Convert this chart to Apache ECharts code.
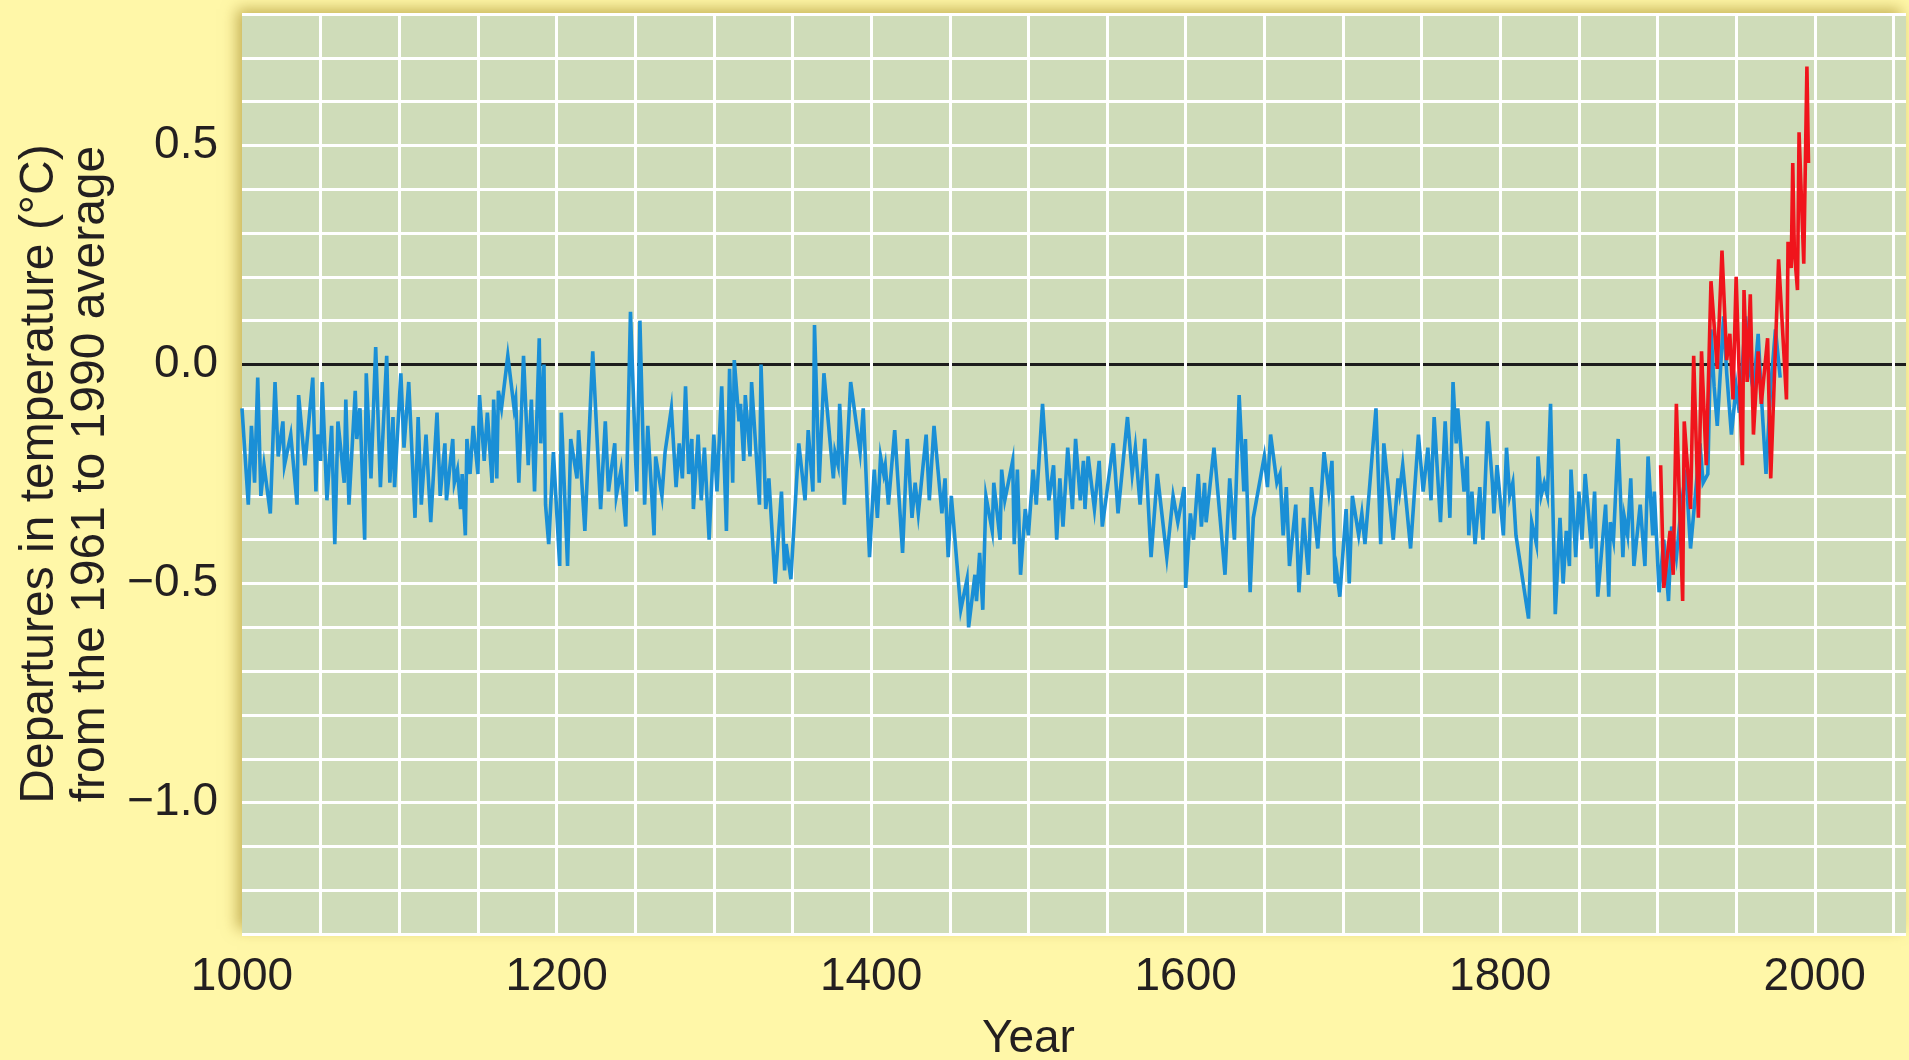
<!DOCTYPE html>
<html>
<head>
<meta charset="utf-8">
<script src="https://cdn.jsdelivr.net/npm/echarts@6/dist/echarts.min.js"></script>
<style>
  html, body { margin: 0; padding: 0; background: #fff7a8; }
  #chart { width: 1909px; height: 1060px; }
</style>
</head>
<body>
<div id="chart"></div>
<script>
// Proxy-based reconstruction of northern-hemisphere temperature, [year, departure in °C]
const reconstructed = [
  [1000,-0.10],[1004,-0.32],[1006,-0.14],[1008,-0.27],[1010,-0.03],[1012,-0.30],[1014,-0.23],[1018,-0.34],
  [1021,-0.04],[1023,-0.21],[1026,-0.13],[1027,-0.23],[1031,-0.16],[1035,-0.32],[1036,-0.07],[1040,-0.23],
  [1045,-0.03],[1047,-0.29],[1048,-0.16],[1050,-0.22],[1051,-0.04],[1054,-0.31],[1057,-0.14],[1059,-0.41],
  [1061,-0.13],[1065,-0.27],[1066,-0.08],[1068,-0.32],[1072,-0.06],[1073,-0.17],[1075,-0.10],[1078,-0.40],
  [1079,-0.02],[1082,-0.26],[1085,0.04],[1088,-0.28],[1092,0.02],[1094,-0.27],[1096,-0.12],[1097,-0.28],
  [1101,-0.02],[1103,-0.19],[1106,-0.04],[1110,-0.35],[1112,-0.12],[1114,-0.32],[1117,-0.16],[1120,-0.36],
  [1124,-0.11],[1126,-0.30],[1129,-0.18],[1130,-0.31],[1134,-0.17],[1135,-0.27],[1137,-0.24],[1139,-0.33],
  [1140,-0.25],[1142,-0.39],[1143,-0.17],[1145,-0.25],[1147,-0.14],[1150,-0.25],[1151,-0.07],[1154,-0.22],
  [1156,-0.11],[1159,-0.27],[1160,-0.08],[1162,-0.26],[1163,-0.06],[1165,-0.10],[1169,0.02],[1173,-0.10],
  [1174,-0.08],[1176,-0.27],[1179,0.02],[1182,-0.23],[1184,-0.08],[1186,-0.29],[1189,0.06],[1190,-0.18],
  [1192,0.00],[1193,-0.32],[1195,-0.41],[1198,-0.20],[1202,-0.46],[1203,-0.11],[1207,-0.46],[1209,-0.17],
  [1213,-0.26],[1214,-0.15],[1218,-0.38],[1223,0.03],[1228,-0.33],[1231,-0.13],[1233,-0.29],[1237,-0.18],
  [1238,-0.30],[1241,-0.24],[1244,-0.37],[1247,0.12],[1251,-0.29],[1253,0.10],[1256,-0.32],[1258,-0.14],
  [1262,-0.39],[1263,-0.21],[1267,-0.30],[1269,-0.20],[1271,-0.15],[1273,-0.10],[1276,-0.28],[1278,-0.18],
  [1280,-0.26],[1282,-0.05],[1284,-0.25],[1286,-0.17],[1287,-0.33],[1290,-0.16],[1292,-0.31],[1294,-0.19],
  [1297,-0.40],[1300,-0.16],[1302,-0.29],[1305,-0.05],[1308,-0.38],[1310,-0.01],[1312,-0.27],[1313,0.01],
  [1316,-0.13],[1317,-0.09],[1319,-0.22],[1320,-0.07],[1323,-0.21],[1324,-0.04],[1329,-0.32],[1330,0.00],
  [1333,-0.33],[1335,-0.26],[1339,-0.50],[1343,-0.29],[1345,-0.47],[1346,-0.41],[1349,-0.49],[1354,-0.18],
  [1358,-0.31],[1360,-0.15],[1363,-0.29],[1364,0.09],[1367,-0.27],[1370,-0.02],[1376,-0.26],[1377,-0.20],
  [1379,-0.23],[1380,-0.09],[1383,-0.32],[1387,-0.04],[1393,-0.20],[1395,-0.10],[1399,-0.44],[1402,-0.24],
  [1404,-0.35],[1406,-0.21],[1408,-0.25],[1409,-0.23],[1411,-0.32],[1415,-0.15],[1420,-0.43],[1423,-0.17],
  [1426,-0.35],[1428,-0.27],[1430,-0.34],[1435,-0.16],[1437,-0.31],[1440,-0.14],[1445,-0.34],[1447,-0.26],
  [1449,-0.44],[1451,-0.30],[1457,-0.56],[1461,-0.49],[1462,-0.60],[1466,-0.48],[1467,-0.54],[1469,-0.43],
  [1471,-0.56],[1473,-0.30],[1477,-0.38],[1478,-0.27],[1482,-0.40],[1483,-0.24],[1485,-0.31],[1490,-0.22],
  [1491,-0.41],[1493,-0.24],[1495,-0.48],[1498,-0.33],[1500,-0.39],[1503,-0.24],[1505,-0.32],[1509,-0.09],
  [1513,-0.31],[1516,-0.23],[1518,-0.40],[1520,-0.26],[1522,-0.37],[1525,-0.19],[1528,-0.33],[1530,-0.17],
  [1533,-0.31],[1535,-0.22],[1536,-0.33],[1538,-0.21],[1542,-0.33],[1545,-0.22],[1547,-0.37],[1554,-0.18],
  [1557,-0.34],[1563,-0.12],[1566,-0.25],[1568,-0.19],[1571,-0.32],[1574,-0.17],[1578,-0.44],[1582,-0.25],
  [1588,-0.44],[1592,-0.30],[1595,-0.36],[1599,-0.28],[1600,-0.51],[1603,-0.34],[1605,-0.40],[1608,-0.25],
  [1610,-0.37],[1612,-0.27],[1613,-0.36],[1618,-0.19],[1625,-0.48],[1628,-0.26],[1631,-0.40],[1634,-0.07],
  [1637,-0.29],[1638,-0.17],[1641,-0.52],[1643,-0.35],[1650,-0.21],[1652,-0.28],[1654,-0.16],[1658,-0.27],
  [1660,-0.25],[1662,-0.39],[1664,-0.28],[1666,-0.46],[1670,-0.32],[1672,-0.52],[1675,-0.35],[1678,-0.48],
  [1680,-0.28],[1684,-0.42],[1688,-0.20],[1691,-0.29],[1693,-0.22],[1695,-0.50],[1696,-0.47],[1698,-0.53],
  [1702,-0.33],[1704,-0.50],[1706,-0.30],[1710,-0.39],[1712,-0.34],[1714,-0.41],[1721,-0.10],[1724,-0.41],
  [1726,-0.18],[1732,-0.40],[1735,-0.26],[1736,-0.29],[1738,-0.23],[1743,-0.42],[1748,-0.16],[1751,-0.29],
  [1754,-0.19],[1756,-0.31],[1758,-0.12],[1762,-0.36],[1765,-0.13],[1768,-0.35],[1770,-0.04],[1772,-0.18],
  [1773,-0.10],[1777,-0.29],[1779,-0.21],[1780,-0.39],[1782,-0.29],[1784,-0.41],[1787,-0.28],[1789,-0.40],
  [1792,-0.13],[1795,-0.27],[1796,-0.34],[1798,-0.23],[1802,-0.39],[1804,-0.19],[1806,-0.30],[1808,-0.27],
  [1810,-0.39],[1818,-0.58],[1820,-0.36],[1823,-0.41],[1824,-0.21],[1826,-0.30],[1828,-0.27],[1830,-0.30],
  [1832,-0.09],[1835,-0.57],[1838,-0.35],[1840,-0.50],[1842,-0.38],[1844,-0.46],[1845,-0.24],[1848,-0.44],
  [1850,-0.29],[1852,-0.40],[1854,-0.25],[1858,-0.42],[1860,-0.29],[1862,-0.53],[1867,-0.32],[1869,-0.53],
  [1870,-0.36],[1872,-0.40],[1875,-0.17],[1878,-0.44],[1879,-0.35],[1881,-0.39],[1883,-0.26],[1885,-0.46],
  [1889,-0.32],[1892,-0.46],[1894,-0.21],[1897,-0.39],[1898,-0.29],[1901,-0.52],[1904,-0.40],[1907,-0.54],
  [1909,-0.37],[1912,-0.44],[1915,-0.33],[1918,-0.24],[1921,-0.42],[1924,-0.30],[1927,-0.18],[1929,-0.27],
  [1932,-0.25],[1934,0.08],[1936,-0.05],[1938,-0.14],[1942,0.11],[1944,-0.02],[1947,-0.16],[1950,-0.05],
  [1952,-0.11],[1956,0.11],[1959,-0.02],[1961,-0.06],[1964,0.07],[1966,-0.07],[1969,-0.25],[1972,-0.05],
  [1975,0.08],[1978,-0.03]
];

// Thermometer record, [year, departure in °C]
const instrumental = [
  [1902,-0.23],[1904,-0.51],[1908,-0.38],[1910,-0.48],[1912,-0.09],[1916,-0.54],[1917,-0.13],[1921,-0.33],
  [1923,0.02],[1926,-0.35],[1928,0.03],[1931,-0.23],[1934,0.19],[1938,-0.01],[1941,0.26],[1944,0.01],
  [1946,0.07],[1948,-0.08],[1950,0.20],[1952,-0.03],[1954,-0.23],[1955,0.17],[1957,-0.04],[1959,0.16],
  [1961,-0.16],[1964,0.03],[1966,-0.09],[1970,0.06],[1972,-0.26],[1977,0.24],[1982,-0.08],[1983,0.28],
  [1985,0.22],[1986,0.46],[1987,0.26],[1989,0.17],[1990,0.53],[1993,0.23],[1995,0.68],[1996,0.46]
];

// Labelled ticks
const yearTicks = [1000, 1200, 1400, 1600, 1800, 2000];
const tempTicks = [-1.0, -0.5, 0.0, 0.5];

// Axis ranges and grid steps
const yMin = -1.3, yMax = 0.8, yStep = 0.1;
const xMin = 1000, xMax = 2058, xStep = 50;

const FONT = '"Liberation Sans", Arial, Helvetica, sans-serif';
const INK = '#231f20';
const PLOT_BG = '#cfdcb9';

// One colour per horizontal grid line; the 0.0 line is the black reference line
const hLineColors = [];
for (let k = Math.round(yMin / yStep); k <= Math.round(yMax / yStep); k++) {
  hLineColors.push(k === 0 ? '#1c1c1c' : '#ffffff');
}

function tempLabel(v) {
  const t = tempTicks.find(t => Math.abs(t - v) < 1e-6);
  if (t === undefined) return '';
  return (t < 0 ? '\u2212' : '') + Math.abs(t).toFixed(1);
}
function yearLabel(v) {
  const y = yearTicks.find(t => Math.abs(t - v) < 1e-6);
  return y === undefined ? '' : String(y);
}

const chart = echarts.init(document.getElementById('chart'), null, { renderer: 'canvas' });

chart.setOption({
  animation: false,
  backgroundColor: '#fff7a8',
  textStyle: { fontFamily: FONT },
  grid: {
    left: 242, right: 0, top: 14, bottom: 126,
    show: true,
    backgroundColor: PLOT_BG,
    borderWidth: 0,
    shadowColor: 'rgba(150, 120, 20, 0.55)',
    shadowBlur: 14,
    shadowOffsetX: -5,
    shadowOffsetY: -5
  },
  xAxis: {
    type: 'value',
    min: xMin, max: xMax, interval: xStep,
    z: 1,
    axisLine: { show: false },
    axisTick: { show: false },
    axisLabel: {
      formatter: yearLabel,
      fontSize: 46, color: INK, fontFamily: FONT, margin: 20
    },
    splitLine: {
      show: true, showMinLine: false, showMaxLine: false,
      lineStyle: { color: '#ffffff', width: 3 }
    }
  },
  yAxis: {
    type: 'value',
    min: yMin, max: yMax, interval: yStep,
    z: 0,
    axisLine: { show: false },
    axisTick: { show: false },
    axisLabel: {
      formatter: tempLabel,
      fontSize: 46, color: INK, fontFamily: FONT, margin: 24
    },
    splitLine: {
      show: true,
      lineStyle: { color: hLineColors, width: 3 }
    },
    name: 'Departures in temperature (\u00B0C)\nfrom the 1961 to 1990 average',
    nameLocation: 'middle',
    nameRotate: 90,
    nameGap: 120,
    nameTextStyle: { fontSize: 48, lineHeight: 51, color: INK, fontFamily: FONT, align: 'center' }
  },
  series: [
    {
      name: 'Reconstruction',
      type: 'line',
      data: reconstructed,
      showSymbol: false,
      symbol: 'none',
      silent: true,
      z: 3,
      lineStyle: { color: '#1a8fd6', width: 3.6, join: 'miter' }
    },
    {
      name: 'Thermometer record',
      type: 'line',
      data: instrumental,
      showSymbol: false,
      symbol: 'none',
      silent: true,
      z: 4,
      lineStyle: { color: '#f0141c', width: 3.6, join: 'miter' }
    }
  ]
});

// Axis title for the years, centred under 1500
const yearTitleX = chart.convertToPixel({ xAxisIndex: 0 }, 1500);
chart.setOption({
  graphic: [{
    type: 'text',
    x: yearTitleX,
    y: 1039,
    silent: true,
    style: {
      text: 'Year',
      fill: INK,
      font: '46px ' + FONT,
      align: 'center',
      verticalAlign: 'middle'
    }
  }]
});
</script>
</body>
</html>
